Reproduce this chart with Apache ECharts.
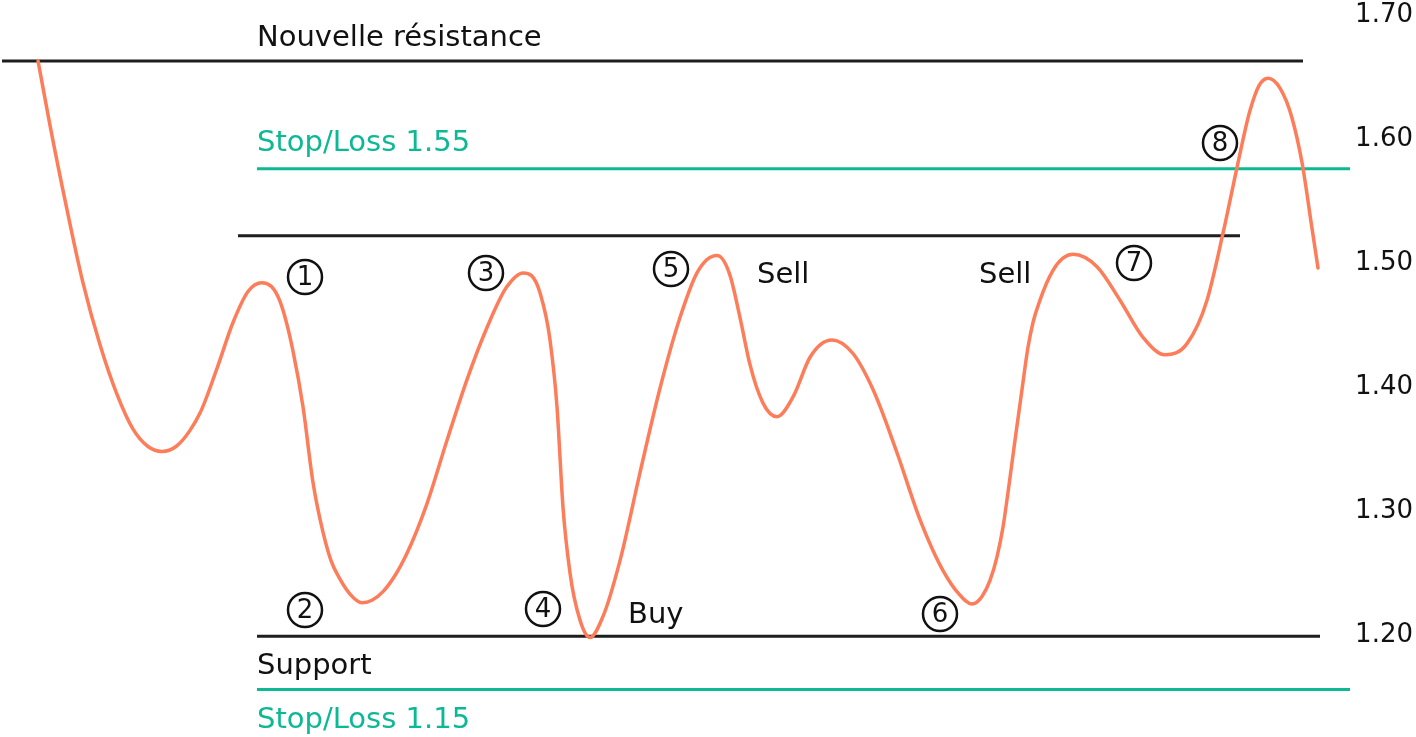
<!DOCTYPE html>
<html>
<head>
<meta charset="utf-8">
<title>Support / résistance</title>
<script src="https://cdn.jsdelivr.net/npm/echarts@6/dist/echarts.min.js"></script>
<style>
  html, body { margin: 0; padding: 0; background: #fff; }
  #chart { width: 1416px; height: 737px; }
</style>
</head>
<body>
<div id="chart"></div>
<script>
  // price path (x = time step)
  const steps = [38, 50, 67, 83, 100, 117, 133, 148, 162,
    176, 190, 200, 217, 233, 248, 262,
    280, 293, 303, 313, 323, 331, 340, 350, 362,
    372, 383, 395, 407, 427, 447, 467, 487, 507, 523,
    540, 550, 557, 563, 570, 580, 590,
    603, 620, 640, 660, 680, 697, 717,
    730, 740, 750, 763, 777, 793, 810, 832,
    853, 873, 897, 920, 943, 958, 972,
    982, 990, 997, 1003, 1008, 1015, 1022, 1028, 1033, 1040, 1053, 1073,
    1097, 1120, 1143, 1165, 1187, 1207, 1223, 1237, 1250, 1259, 1268, 1280, 1292, 1302, 1312, 1318];
  const prices = [1.663, 1.611, 1.543, 1.484, 1.434, 1.394, 1.366, 1.352, 1.348,
    1.352, 1.365, 1.379, 1.415, 1.452, 1.477, 1.484,
    1.469, 1.429, 1.384, 1.323, 1.283, 1.260, 1.245, 1.233, 1.226,
    1.228, 1.235, 1.248, 1.266, 1.306, 1.357, 1.406, 1.448, 1.481, 1.492,
    1.476, 1.438, 1.384, 1.303, 1.250, 1.212, 1.198,
    1.215, 1.260, 1.331, 1.399, 1.456, 1.492, 1.506,
    1.490, 1.456, 1.418, 1.387, 1.376, 1.392, 1.424, 1.438,
    1.427, 1.398, 1.347, 1.293, 1.252, 1.234, 1.225,
    1.231, 1.244, 1.263, 1.287, 1.315, 1.357, 1.398, 1.432, 1.452, 1.470, 1.494, 1.507,
    1.497, 1.470, 1.440, 1.426, 1.435, 1.470, 1.524, 1.577, 1.623, 1.643, 1.649, 1.641, 1.617, 1.581, 1.528, 1.496];

  // horizontal levels
  const levelValues = [1.663, 1.576, 1.522, 1.199, 1.156];
  const levelFrom = [2, 257, 238, 257, 257];
  const levelTo = [1303, 1350, 1240, 1320, 1350];
  const levelColors = ['#1e1e1e', '#0db894', '#1e1e1e', '#1e1e1e', '#0db894'];

  const yTicks = [1.2, 1.3, 1.4, 1.5, 1.6, 1.7];
  const stepLabels = ['1', '2', '3', '4', '5', '6', '7', '8'];

  const TXT = "'DejaVu Sans', sans-serif";
  const GREEN = '#0db894';
  const INK = '#111';
  const CURVE = '#fd7d5a';

  function label(text, x, y, color) {
    return {
      type: 'text', x: x, y: y, silent: true,
      style: { text: text, fill: color, font: '29px ' + TXT, align: 'left', verticalAlign: 'middle' }
    };
  }
  // numbered marker: circle + digit
  function marker(text, x, y) {
    return {
      type: 'group', x: x, y: y, silent: true,
      children: [
        { type: 'circle', shape: { cx: 0, cy: 0, r: 17 }, style: { fill: 'none', stroke: INK, lineWidth: 2.5 } },
        { type: 'text', x: 0, y: 1, style: { text: text, fill: INK, font: '26px ' + TXT, align: 'center', verticalAlign: 'middle' } }
      ]
    };
  }

  // monotone cubic (Fritsch-Carlson limit) through pixel points, flat at turning points
  function monotonePath(pts) {
    const n = pts.length;
    const s = [];
    for (let i = 0; i < n - 1; i++) {
      s.push((pts[i + 1][1] - pts[i][1]) / (pts[i + 1][0] - pts[i][0]));
    }
    const m = new Array(n).fill(0);
    for (let i = 1; i < n - 1; i++) {
      const h0 = pts[i][0] - pts[i - 1][0];
      const h1 = pts[i + 1][0] - pts[i][0];
      if (s[i - 1] * s[i] <= 0) continue;
      const p = (s[i - 1] * h1 + s[i] * h0) / (h0 + h1);
      m[i] = Math.sign(p) * Math.min(Math.abs(p), 3 * Math.min(Math.abs(s[i - 1]), Math.abs(s[i])));
    }
    m[0] = (3 * s[0] - m[1]) / 2;
    m[n - 1] = (3 * s[n - 2] - m[n - 2]) / 2;
    let d = 'M' + pts[0][0] + ' ' + pts[0][1];
    for (let i = 0; i < n - 1; i++) {
      const h = (pts[i + 1][0] - pts[i][0]) / 3;
      d += ' C' + (pts[i][0] + h) + ' ' + (pts[i][1] + m[i] * h) + ' ' +
        (pts[i + 1][0] - h) + ' ' + (pts[i + 1][1] - m[i + 1] * h) + ' ' +
        pts[i + 1][0] + ' ' + pts[i + 1][1];
    }
    return d;
  }

  const chart = echarts.init(document.getElementById('chart'));

  const levelSeries = levelValues.map((v, i) => ({
    type: 'line',
    data: [[levelFrom[i], v], [levelTo[i], v]],
    symbol: 'none',
    silent: true,
    clip: false,
    z: 1,
    lineStyle: { color: levelColors[i], width: 3 }
  }));

  const markerPos = [[305, 277], [305, 610], [486, 273], [543, 609], [671, 269], [940, 614], [1134, 263], [1220, 143]];

  chart.setOption({
    animation: false,
    backgroundColor: '#fff',
    grid: { left: 0, right: 0, top: 15, height: 620 },
    xAxis: {
      type: 'value',
      min: 0,
      max: 1416,
      show: false
    },
    yAxis: {
      type: 'value',
      position: 'right',
      min: 1.2,
      max: 1.7,
      interval: 0.1,
      axisLine: { show: false },
      axisTick: { show: false },
      splitLine: { show: false },
      axisLabel: {
        inside: true,
        margin: 3,
        color: INK,
        fontFamily: TXT,
        fontSize: 26,
        formatter: (v) => yTicks.some(t => Math.abs(t - v) < 1e-6) ? v.toFixed(2) : ''
      }
    },
    series: levelSeries.concat([{
      type: 'custom',
      data: steps.map((s, i) => [s, prices[i]]),
      encode: { x: 0, y: 1 },
      clip: false,
      silent: true,
      z: 3,
      renderItem: function (params, api) {
        if (params.dataIndex !== 0) return;
        const pts = steps.map((s, i) => api.coord([s, prices[i]]));
        return {
          type: 'path',
          shape: { pathData: monotonePath(pts) },
          style: { fill: 'none', stroke: CURVE, lineWidth: 3.5, lineJoin: 'round', lineCap: 'round' }
        };
      }
    }]),
    graphic: [
      label('Nouvelle résistance', 257, 38, INK),
      label('Stop/Loss 1.55', 257, 143, GREEN),
      label('Sell', 757, 275, INK),
      label('Sell', 979, 275, INK),
      label('Buy', 628, 615, INK),
      label('Support', 257, 666, INK),
      label('Stop/Loss 1.15', 257, 720, GREEN)
    ].concat(stepLabels.map((t, i) => marker(t, markerPos[i][0], markerPos[i][1])))
  });
</script>
</body>
</html>
